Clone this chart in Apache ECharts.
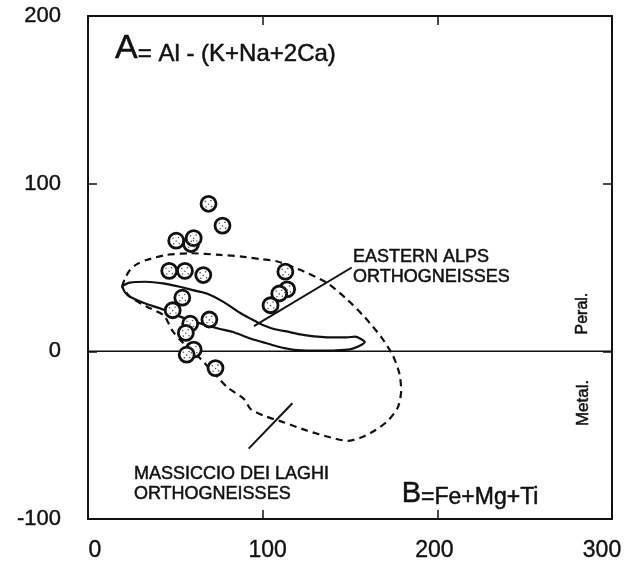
<!DOCTYPE html>
<html>
<head>
<meta charset="utf-8">
<script src="https://cdn.jsdelivr.net/npm/echarts@6/dist/echarts.min.js"></script>
<style>
html,body{margin:0;padding:0;background:#fff;}
#c{width:625px;height:567px;}
</style>
</head>
<body>
<div id="c"></div>
<script>
// ---- data ----
const xTicks = [0, 100, 200, 300];
const yTicks = [-100, 0, 100, 200];

// sample points [B, A]
const samples = [
  [69, 88], [77, 75], [50.5, 66], [59, 64], [60.5, 67.5],
  [46.5, 48], [55.5, 48], [66, 45.5],
  [113, 47.5], [114, 37], [109.5, 34.5], [104.5, 27.5],
  [54, 32], [48.5, 24.5], [58.5, 16.5], [69.5, 19], [56, 11],
  [60.5, 1], [56.5, -2], [73, -10]
];

// Eastern Alps orthogneisses field (solid outline)
const easternAlpsField = [
  [19.5, 39], [24, 41], [33, 41.5], [43, 40.5], [52.5, 38.5], [60, 36.5],
  [68, 34.5], [77.5, 29.5], [87, 23], [93, 19.5], [98.5, 16.5], [106, 13.5],
  [115.5, 11.5], [125, 9.5], [140, 8.3], [148, 8.3], [153, 8.8], [156, 7.5],
  [158.5, 5.5], [155, 3], [150, 1.2], [141, 0.5], [134.5, 0.4], [125, 0.5],
  [117, 1], [108, 3], [100, 5.5], [92, 8], [83, 11.5], [75, 13.5], [68, 15.5],
  [60, 18], [52, 21], [43, 25], [33.6, 28.2], [24, 32.6], [21, 35.5], [19.5, 39]
];

// Massiccio dei Laghi orthogneisses field (dashed outline)
const massiccioField = [
  [19.5, 38.6], [21, 43], [24, 48.5], [28, 52], [33.5, 54.5], [45, 57.5],
  [58.5, 58.5], [76, 57.5], [88, 56.5], [99, 55], [108.4, 53.6], [123.7, 47.6],
  [137.2, 40.6], [148.7, 30.6], [158.2, 20.6], [167.8, 8.6], [174.5, -2.4],
  [178.3, -13.4], [179.3, -23.4], [177.4, -33.4], [171.7, -41.4], [164, -47.4],
  [156.3, -51.4], [148.7, -53.4], [139, -51.4], [125.7, -47.4], [112.2, -42.4],
  [100.8, -38.4], [93.1, -34.4], [89.3, -28.4], [79.7, -21.4], [72, -13],
  [64.4, -4.4], [58, 2], [52.9, 6.6], [48.5, 12], [46.2, 16.6], [43.3, 21.6],
  [33.7, 26.6], [24, 32.6], [19.5, 38.6]
];

const zeroLine = [[0, 0], [300, 0]];
const leaderEastern = [[95, 15], [151, 50]];
const leaderMassiccio = [[92, -58], [117, -31]];

// annotation anchors (data coords)
const labelA = { pos: [15.5, 170.2], big: 'A', rest: '= Al - (K+Na+2Ca)' };
const labelB = { pos: [179.6, -94], big: 'B', rest: '=Fe+Mg+Ti' };
const labelEastern = { pos: [151.7, 62.2], text: 'EASTERN ALPS\nORTHOGNEISSES' };
const labelMassiccio = { pos: [26.3, -67.2], text: 'MASSICCIO DEI LAGHI\nORTHOGNEISSES' };
const labelPeral = { pos: [283.4, 22.5], text: 'Peral.' };
const labelMetal = { pos: [283.4, -30.8], text: 'Metal.' };

// ---- chart ----
const FONT = '"Liberation Sans", Arial, Helvetica, sans-serif';
const INK = '#111';
const chart = echarts.init(document.getElementById('c'), null, { renderer: 'canvas' });

function dot(cx, cy, r) {
  return 'M' + (cx - r) + ' ' + cy + ' a' + r + ' ' + r + ' 0 1 0 ' + (2 * r) + ' 0 a' + r + ' ' + r + ' 0 1 0 ' + (-2 * r) + ' 0 Z ';
}
const stipplePath = 'path://' + dot(2, 3, 1) + dot(9, 2, 1) + dot(6, 6.5, 1) + dot(3, 10, 1) + dot(10, 9.5, 1);

const xShift = [
  { padding: [0, 0, 0, 14] }, { padding: [0, 0, 0, 10] },
  { padding: [0, 6, 0, 0] }, { padding: [0, 20, 0, 0] }
];
const xRich = {};
xShift.forEach((s, i) => {
  xRich['s' + i] = Object.assign({ fontSize: 23, color: INK, fontFamily: FONT, textBorderColor: INK, textBorderWidth: 0.4 }, s);
});

const axisCommon = {
  type: 'value',
  interval: 100,
  splitLine: { show: false },
  axisLine: { show: true, onZero: false, lineStyle: { color: INK, width: 2 } },
  axisTick: { show: true, inside: true, length: 9, lineStyle: { color: INK, width: 1.5 } }
};

const option = {
  animation: false,
  backgroundColor: '#fff',
  grid: { left: 88, top: 16, width: 524, height: 503, containLabel: false },
  xAxis: [
    Object.assign({}, axisCommon, {
      position: 'bottom', min: xTicks[0], max: xTicks[xTicks.length - 1],
      axisLabel: {
        show: true, margin: 20, fontSize: 23, color: INK, fontFamily: FONT,
        formatter: (v) => { const i = xTicks.indexOf(v); return '{s' + i + '|' + v + '}'; },
        rich: xRich
      }
    }),
    Object.assign({}, axisCommon, {
      position: 'top', min: xTicks[0], max: xTicks[xTicks.length - 1],
      axisLabel: { show: false }
    })
  ],
  yAxis: [
    Object.assign({}, axisCommon, {
      position: 'left', min: yTicks[0], max: yTicks[yTicks.length - 1],
      axisLabel: { show: true, margin: 27, fontSize: 22, color: INK, fontFamily: FONT, textBorderColor: INK, textBorderWidth: 0.4 }
    }),
    Object.assign({}, axisCommon, {
      position: 'right', min: yTicks[0], max: yTicks[yTicks.length - 1],
      axisLabel: { show: false }
    })
  ],
  series: [
    {
      type: 'line', data: zeroLine, showSymbol: false, silent: true,
      lineStyle: { color: INK, width: 1.5 }, z: 1
    },
    {
      type: 'line', data: massiccioField, showSymbol: false, silent: true, smooth: 0.25,
      lineStyle: { color: INK, width: 2.2, type: [7, 5] }, z: 2
    },
    {
      type: 'line', data: easternAlpsField, showSymbol: false, silent: true, smooth: 0.25,
      lineStyle: { color: INK, width: 2.2 }, z: 2
    },
    {
      type: 'line', data: leaderEastern, showSymbol: false, silent: true,
      lineStyle: { color: INK, width: 2 }, z: 2
    },
    {
      type: 'line', data: leaderMassiccio, showSymbol: false, silent: true,
      lineStyle: { color: INK, width: 2 }, z: 2
    },
    {
      type: 'scatter', data: samples, symbol: 'circle', symbolSize: 15, silent: true,
      itemStyle: { color: '#fff', borderColor: INK, borderWidth: 2.8, opacity: 1 },
      z: 5
    },
    {
      type: 'scatter', data: samples, symbol: stipplePath, symbolSize: 8, silent: true,
      itemStyle: { color: '#555', opacity: 1 },
      z: 6
    }
  ]
};
chart.setOption(option);

function px(p) { return chart.convertToPixel({ xAxisIndex: 0, yAxisIndex: 0 }, p); }

const pA = px(labelA.pos), pB = px(labelB.pos), pE = px(labelEastern.pos),
      pM = px(labelMassiccio.pos), pP = px(labelPeral.pos), pT = px(labelMetal.pos);

const thick = { stroke: INK, lineWidth: 0.5 };

chart.setOption({
  graphic: [
    {
      type: 'text', x: pA[0], y: pA[1], z: 10,
      style: Object.assign({
        text: '{a|' + labelA.big + '}{b|' + labelA.rest + '}',
        align: 'left', verticalAlign: 'bottom', fill: INK, fontFamily: FONT,
        rich: {
          a: { fontSize: 34, fontFamily: FONT, fill: INK, verticalAlign: 'bottom' },
          b: { fontSize: 24, fontFamily: FONT, fill: INK, verticalAlign: 'bottom' }
        }
      }, thick)
    },
    {
      type: 'text', x: pB[0], y: pB[1], z: 10,
      style: Object.assign({
        text: '{a|' + labelB.big + '}{b|' + labelB.rest + '}',
        align: 'left', verticalAlign: 'bottom', fill: INK, fontFamily: FONT,
        rich: {
          a: { fontSize: 29, fontFamily: FONT, fill: INK, verticalAlign: 'bottom' },
          b: { fontSize: 23, fontFamily: FONT, fill: INK, verticalAlign: 'bottom' }
        }
      }, thick)
    },
    {
      type: 'text', x: pE[0], y: pE[1], z: 10,
      style: Object.assign({ text: labelEastern.text, fontSize: 18, lineHeight: 20, fontFamily: FONT, fill: INK, align: 'left', verticalAlign: 'top' }, thick)
    },
    {
      type: 'text', x: pM[0], y: pM[1], z: 10,
      style: Object.assign({ text: labelMassiccio.text, fontSize: 18, lineHeight: 20, fontFamily: FONT, fill: INK, align: 'left', verticalAlign: 'top' }, thick)
    },
    {
      type: 'text', x: pP[0], y: pP[1], rotation: Math.PI / 2, z: 10,
      style: Object.assign({ text: labelPeral.text, fontSize: 16, fontFamily: FONT, fill: INK, align: 'center', verticalAlign: 'middle' }, thick)
    },
    {
      type: 'text', x: pT[0], y: pT[1], rotation: Math.PI / 2, z: 10,
      style: Object.assign({ text: labelMetal.text, fontSize: 17, fontFamily: FONT, fill: INK, align: 'center', verticalAlign: 'middle' }, thick)
    }
  ]
});
</script>
</body>
</html>
